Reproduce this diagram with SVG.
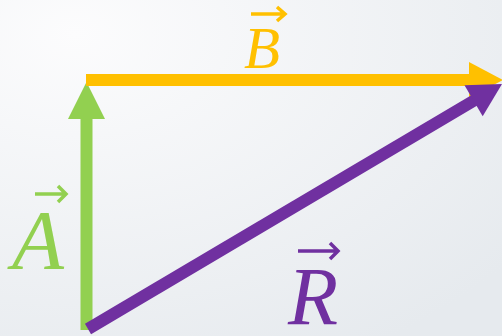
<svg xmlns="http://www.w3.org/2000/svg" width="502" height="336" viewBox="0 0 502 336">
<defs>
<radialGradient id="bg" cx="0.15" cy="0.1" r="1.1">
<stop offset="0" stop-color="#fcfcfd"/>
<stop offset="1" stop-color="#e6eaee"/>
</radialGradient>
</defs>
<style>
.lbl{font-family:"Liberation Serif","Times New Roman",serif;font-style:italic;text-anchor:middle}
.acc{fill:none;stroke-width:3.5;stroke-linecap:butt;stroke-linejoin:miter}
</style>
<rect width="502" height="336" fill="url(#bg)"/>
<g id="connectors">
<g id="vecA">
<line x1="86.5" y1="330" x2="86.5" y2="114" stroke="#92d050" stroke-width="12"/>
<polygon points="86.5,82 68,119 105,119" fill="#92d050"/>
</g>
<g id="vecB">
<line x1="86" y1="80" x2="472" y2="80" stroke="#ffc000" stroke-width="12"/>
<polygon points="503,80 469,62 469,98" fill="#ffc000"/>
</g>
<g id="vecR">
<line x1="88" y1="329" x2="476" y2="99.3" stroke="#7030a0" stroke-width="12"/>
<polygon points="502,84 464.5,85.2 482.7,116.2" fill="#7030a0"/>
</g>
</g>
<g id="labelA">
<text class="lbl" x="38" y="269" font-size="85" fill="#92d050">A</text>
<path class="acc" stroke="#92d050" d="M35,194 H65 M58,186 L66,194 L58,202"/>
</g>
<g id="labelB">
<text class="lbl" x="262" y="68" font-size="59" fill="#ffc000">B</text>
<path class="acc" stroke="#ffc000" d="M251,14 H284 M277,7 L285,14 L277,21"/>
</g>
<g id="labelR">
<text class="lbl" x="313" y="324" font-size="82" fill="#7030a0">R</text>
<path class="acc" stroke="#7030a0" d="M298,251 H337 M330,243 L338,251 L330,259"/>
</g>
</svg>
